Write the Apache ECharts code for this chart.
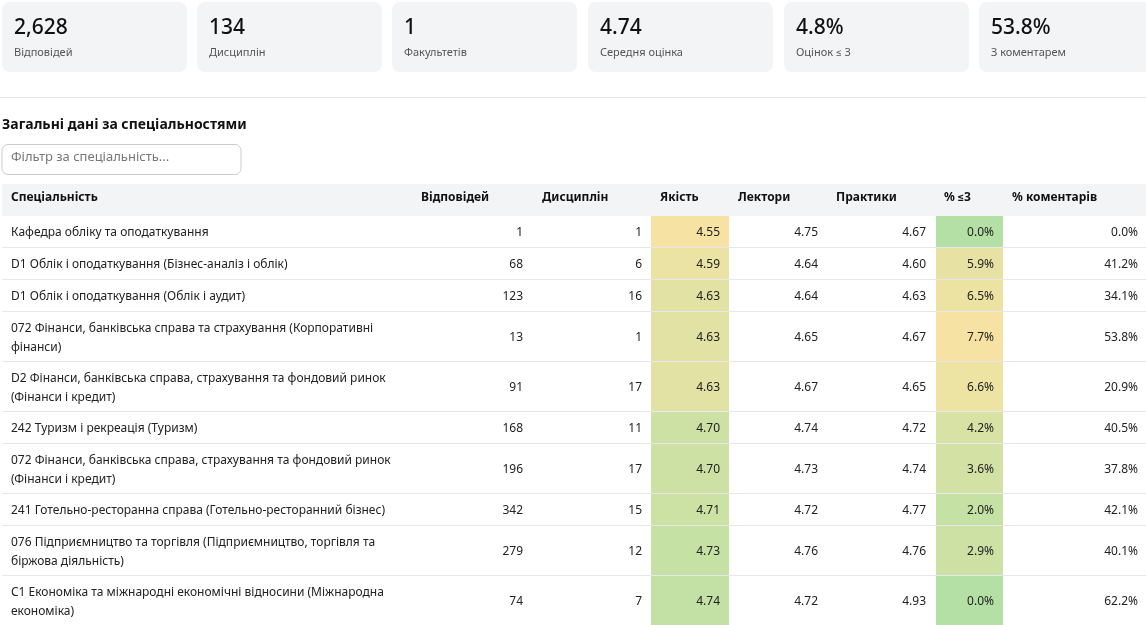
<!DOCTYPE html>
<html><head><meta charset="utf-8">
<script src="https://cdn.jsdelivr.net/npm/echarts@6/dist/echarts.min.js"></script>
<style>html,body{margin:0;padding:0;background:#fff}#c{width:1146px;height:625px}</style>
</head><body><div id="c"></div>
<script>
const kpiValues = ['2,628','134','1','4.74','4.8%','53.8%'];
const kpiLabels = ['Відповідей','Дисциплін','Факультетів','Середня оцінка','Оцінок ≤ 3','З коментарем'];
const headers = ['Спеціальність','Відповідей','Дисциплін','Якість','Лектори','Практики','% ≤3','% коментарів'];
const names = [
 'Кафедра обліку та оподаткування',
 'D1 Облік і оподаткування (Бізнес-аналіз і облік)',
 'D1 Облік і оподаткування (Облік і аудит)',
 '072 Фінанси, банківська справа та страхування (Корпоративні фінанси)',
 'D2 Фінанси, банківська справа, страхування та фондовий ринок (Фінанси і кредит)',
 '242 Туризм і рекреація (Туризм)',
 '072 Фінанси, банківська справа, страхування та фондовий ринок (Фінанси і кредит)',
 '241 Готельно-ресторанна справа (Готельно-ресторанний бізнес)',
 '076 Підприємництво та торгівля (Підприємництво, торгівля та біржова діяльність)',
 'C1 Економіка та міжнародні економічні відносини (Міжнародна економіка)'
];
const responses = [1,68,123,13,91,168,196,342,279,74];
const disciplines = [1,6,16,1,17,11,17,15,12,7];
const quality = [4.55,4.59,4.63,4.63,4.63,4.70,4.70,4.71,4.73,4.74];
const lecturers = [4.75,4.64,4.64,4.65,4.67,4.74,4.73,4.72,4.76,4.72];
const practice = [4.67,4.60,4.63,4.67,4.65,4.72,4.74,4.77,4.76,4.93];
const lowPct = [0.0,5.9,6.5,7.7,6.6,4.2,3.6,2.0,2.9,0.0];
const commentPct = [0.0,41.2,34.1,53.8,20.9,40.5,37.8,42.1,40.1,62.2];

const F='"Noto Sans",Roboto,sans-serif';
const ctx=document.createElement('canvas').getContext('2d'); ctx.font='12px '+F;
function wrap(s,maxW){const w=s.split(' ');const lines=[];let cur='';
 w.forEach(t=>{const c=cur?cur+' '+t:t; if(ctx.measureText(c).width>maxW&&cur){lines.push(cur);cur=t;}else cur=c;});
 lines.push(cur); return lines;}
const wrapped=names.map(n=>wrap(n,392));

function lerpColor(a,b,t){t=Math.max(0,Math.min(1,t));
 const pa=[1,3,5].map(i=>parseInt(a.substr(i,2),16)),pb=[1,3,5].map(i=>parseInt(b.substr(i,2),16));
 return 'rgb('+pa.map((v,i)=>Math.round(v+(pb[i]-v)*t)).join(',')+')';}
const YEL='#f6e3a3', GRN='#b4e0a5';

const headTop=184, headH=32; let y=216; const rows=[];
wrapped.forEach(l=>{const h=l.length===1?32:50; rows.push([y,y+h]); y+=h;});
const cols=[{x:11,a:'left'},{x:523,a:'right',hx:421},{x:642,a:'right',hx:542},{x:720,a:'right',hx:660,bg:[651,729]},
 {x:818,a:'right',hx:738},{x:926,a:'right',hx:836},{x:994,a:'right',hx:944,bg:[936,1003]},{x:1138,a:'right',hx:1012}];

const data = names.map((n,i)=>[i, wrapped[i].join('\n'), responses[i], disciplines[i], quality[i].toFixed(2), lecturers[i].toFixed(2), practice[i].toFixed(2), lowPct[i].toFixed(1)+'%', commentPct[i].toFixed(1)+'%']);

const graphics=[];
const cardX=[2,197,392,588,784,979];
kpiValues.forEach((v,i)=>{
 graphics.push({type:'rect',shape:{x:cardX[i],y:2,width:185,height:70,r:8},style:{fill:'#f3f4f6'}});
 graphics.push({type:'text',x:cardX[i]+12,y:18,style:{text:v,font:'500 21px '+F,fill:'#111'}});
 graphics.push({type:'text',x:cardX[i]+12,y:47,style:{text:kpiLabels[i],font:'11px '+F,fill:'#555'}});
});
graphics.push({type:'rect',shape:{x:0,y:97,width:1146,height:1},style:{fill:'#e5e7eb'}});
graphics.push({type:'text',x:2,y:118,style:{text:'Загальні дані за спеціальностями',font:'bold 14px '+F,fill:'#111'}});
graphics.push({type:'rect',shape:{x:2,y:144.5,width:239,height:30,r:6},style:{fill:'#fff',stroke:'#c9cbd3',lineWidth:1}});
graphics.push({type:'text',x:11,y:151,style:{text:'Фільтр за спеціальність...',font:'13px '+F,fill:'#777'}});
graphics.push({type:'rect',shape:{x:2,y:headTop,width:1144,height:headH},style:{fill:'#f3f4f6'}});
headers.forEach((h,j)=>graphics.push({type:'text',x:j===0?cols[0].x:cols[j].hx,y:headTop+8,style:{text:h,font:'bold 12px '+F,fill:'#111'}}));

const chart=echarts.init(document.getElementById('c'));
chart.setOption({
 animation:false,
 grid:{left:0,right:0,top:0,bottom:0},
 xAxis:{type:'value',min:0,max:1146,show:false},
 yAxis:{type:'value',min:0,max:625,inverse:true,show:false},
 graphic:graphics,
 series:[{type:'custom',data:data,clip:false,
  renderItem:function(params,api){
   const i=api.value(0); const r=rows[i];
   const p0=api.coord([2,r[0]]), p1=api.coord([1146,r[1]]);
   const top=p0[1], bot=p1[1], mid=(top+bot)/2;
   const ch=[];
   const qc=lerpColor(YEL,GRN,(quality[i]-4.55)/0.25);
   const lc=lerpColor(GRN,YEL,lowPct[i]/7.7);
   [[cols[3].bg,qc],[cols[6].bg,lc]].forEach(([b,c])=>ch.push({type:'rect',shape:{x:api.coord([b[0],0])[0],y:top,width:b[1]-b[0],height:bot-top},style:{fill:c}}));
   ch.push({type:'rect',shape:{x:p0[0],y:bot-1,width:p1[0]-p0[0],height:1},style:{fill:'#e5e7eb'}});
   for(let j=0;j<8;j++){
    ch.push({type:'text',x:api.coord([cols[j].x,0])[0],y:mid+1,style:{text:String(data[i][j+1]),font:'12px '+F,fill:'#222',
     align:cols[j].a,verticalAlign:'middle',lineHeight:19}});
   }
   return {type:'group',children:ch};
  }}]
});
</script></body></html>
